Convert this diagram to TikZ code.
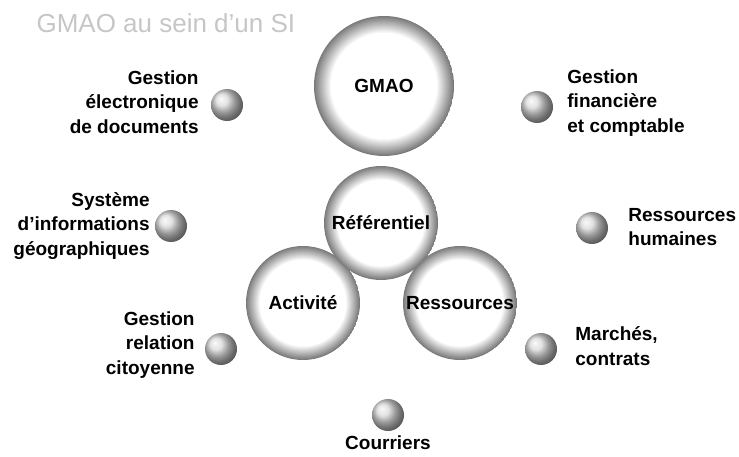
\documentclass[tikz,border=0pt]{standalone}
\usepackage{fontspec}
\setmainfont{Liberation Sans}
\usetikzlibrary{positioning}

\begin{document}
\begin{tikzpicture}[x=1pt, y=-1pt,
        bulle/.style={circle, minimum size=#1, inner sep=0pt, font=\fontsize{19}{23}\selectfont\bfseries,
            path picture={
                \foreach \k in {0,...,20}{
                    \pgfmathsetmacro\ton{52-2.6*\k}
                    \fill[black!\ton, xshift={-0.003*#1*\k}, yshift={0.003*#1*\k}]
                        (path picture bounding box.center) circle[radius={#1/2*(1-0.012*\k)}];
                }
            }},
        bulle/.default=114pt,
        bille/.style={circle, minimum size=32pt, inner sep=0pt, ball color=gray!30},
        legende/.style={inner sep=0pt, font=\fontsize{19}{24.5}\selectfont\bfseries}
    ]
        \useasboundingbox (0,0) rectangle (739,457);
        \node[anchor=base west, text=gray!45, font=\fontsize{26}{30}\selectfont] (titre) at (33,33) {GMAO au sein d'un SI};

        % Grandes bulles
        \node[bulle=140pt] (gmao) at (384,86) {GMAO};
        \node[bulle] (activite) at (303,303) {Activité};
        \node[bulle] (ressources) at (460,303) {Ressources};
        \node[bulle] (referentiel) at (381,223) {Référentiel};

        % Billes
        \node[bille] (ged) at (227,105) {};
        \node[bille] (gfc) at (537,107) {};
        \node[bille] (sig) at (171,226) {};
        \node[bille] (rh) at (592,228) {};
        \node[bille] (grc) at (221,349) {};
        \node[bille] (marches) at (541,349) {};
        \node[bille] (courriers) at (388,415) {};

        % Legendes
        \node[legende, align=right, left=12pt of ged, yshift=3pt] (ged-txt) {Gestion\\électronique\\de documents};
        \node[legende, align=left, right=14pt of gfc, yshift=4pt] (gfc-txt) {Gestion\\financière\\et comptable};
        \node[legende, align=right, left=5pt of sig] (sig-txt) {Système\\d'informations\\géographiques};
        \node[legende, align=left, right=20pt of rh, yshift=1pt] (rh-txt) {Ressources\\humaines};
        \node[legende, align=right, left=10pt of grc, yshift=4pt] (grc-txt) {Gestion\\relation\\citoyenne};
        \node[legende, align=left, right=18pt of marches, yshift=3pt] (marches-txt) {Marchés,\\contrats};
        \node[legende, below=4pt of courriers] (courriers-txt) {Courriers};
    \end{tikzpicture}
\end{document}
